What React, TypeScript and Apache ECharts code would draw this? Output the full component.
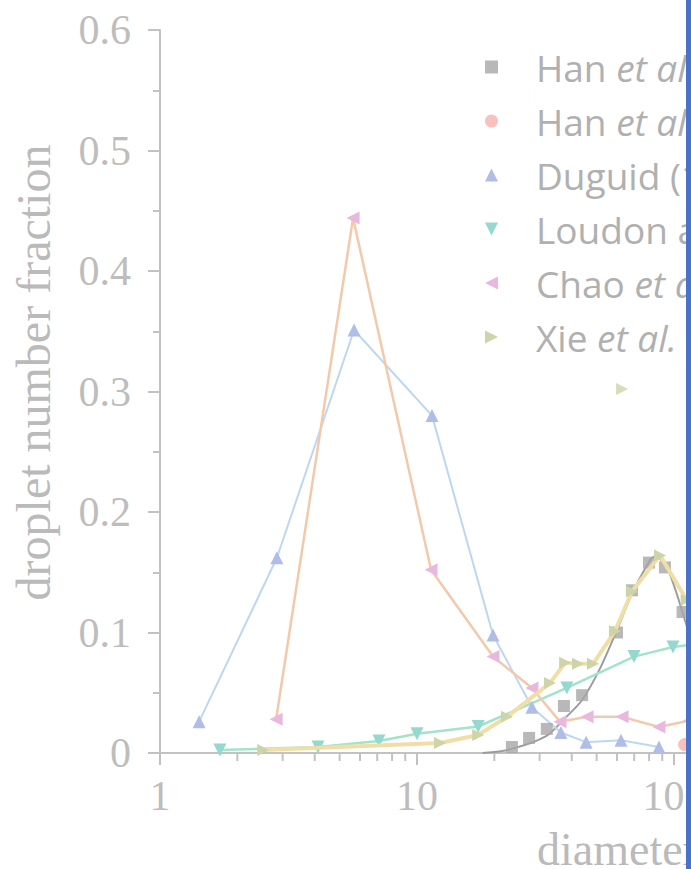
import React, { useEffect, useRef } from "react";
import * as echarts from "echarts";

// ---- data (diameter in µm, droplet number fraction) ----
const legendNames = [
  "Han et al. (2013) unimodal",
  "Han et al. (2013) bimodal",
  "Duguid (1946)",
  "Loudon and Roberts (1967)",
  "Chao et al. (2009)",
  "Xie et al. (2009)",
];

const hanSquares: [number, number][] = [
  [23.4, 0.005], [27.3, 0.0125], [32.0, 0.02], [37.3, 0.039], [43.9, 0.048],
  [60.0, 0.1], [68.6, 0.135], [79.9, 0.158], [92.2, 0.154], [108, 0.117], [128, 0.075],
];
const hanFit: [number, number][] = [
  [18, 0.0], [23, 0.003], [31.8, 0.014], [37.7, 0.029], [43.9, 0.044], [51.5, 0.07],
  [60, 0.102], [68.6, 0.132], [80.7, 0.16], [84.4, 0.163], [93.9, 0.154], [110.4, 0.11], [130, 0.06],
];
const hanCircles: [number, number][] = [[110, 0.007]];
const duguid: [number, number][] = [
  [1.42, 0.026], [2.85, 0.162], [5.69, 0.351], [11.44, 0.28], [19.76, 0.098],
  [28.0, 0.038], [36.3, 0.017], [45.5, 0.009], [62.2, 0.0105], [87.4, 0.005],
];
const loudon: [number, number][] = [
  [1.71, 0.0025], [4.12, 0.005], [7.11, 0.01], [10.0, 0.016], [17.3, 0.022],
  [38.3, 0.054], [69.9, 0.08], [99.1, 0.088], [140, 0.092],
];
const chao: [number, number][] = [
  [2.83, 0.028], [5.64, 0.444], [11.34, 0.152], [19.76, 0.08], [28.0, 0.054],
  [36.0, 0.026], [45.9, 0.03], [62.8, 0.03], [87.4, 0.0216], [115, 0.027],
];
const xie: [number, number][] = [
  [2.52, 0.0025], [12.29, 0.0083], [17.3, 0.015], [22.4, 0.03], [32.9, 0.058],
  [37.7, 0.075], [42.3, 0.074], [48.4, 0.074], [58.9, 0.101], [68.6, 0.134],
  [88.2, 0.164], [112, 0.127],
];
const xieExtra: [number, number][] = [[62.8, 0.302]];

const xMinorTicks = [2, 3, 4, 5, 6, 7, 8, 9, 20, 30, 40, 50, 60, 70, 80, 90, 200, 300, 400, 500, 600, 700, 800, 900];
const xTickLabels: Record<number, string> = { 1: "1", 10: "10", 100: "100" };

const DOWN = "path://M0,0L10,0L5,10Z";
const LEFT = "path://M10,0L10,10L0,5Z";
const RIGHT = "path://M0,0L10,5L0,10Z";

const AXIS = "#c2c2c2";
const LABEL = "#bdbdbd";
const SERIF = "Liberation Serif";
const LEG = "#b0b0b0";

export default function App() {
  const ref = useRef<HTMLDivElement>(null);

  useEffect(() => {
    const chart = echarts.init(ref.current!, null, { renderer: "svg" });
    const legendRich = {
      n: { fontFamily: "Open Sans", fontSize: 37, color: LEG, lineHeight: 40 },
      i: { fontFamily: "Open Sans", fontSize: 37, color: LEG, lineHeight: 40, fontStyle: "italic" },
    };
    const option: any = {
      animation: false,
      backgroundColor: "#ffffff",
      grid: { left: 160, top: 30, right: 69, bottom: 116, containLabel: false, outerBoundsMode: "none" },
      legend: {
        orient: "vertical",
        left: 480,
        top: 42,
        itemWidth: 13,
        itemHeight: 13,
        itemGap: 14,
        selectedMode: false,
        data: [
          { name: legendNames[0], icon: "rect" },
          { name: legendNames[1], icon: "circle" },
          { name: legendNames[2], icon: "triangle" },
          { name: legendNames[3], icon: DOWN },
          { name: legendNames[4], icon: LEFT },
          { name: legendNames[5], icon: RIGHT },
        ],
        formatter: (name: string) => {
          const m = name.match(/^(.*?)(et al\.)(.*)$/);
          if (m) return `{n|${m[1]}}{i|${m[2]}}{n|${m[3]}}`;
          return `{n|${name}}`;
        },
        textStyle: {
          fontFamily: "Open Sans",
          fontSize: 37,
          color: LEG,
          lineHeight: 40,
          padding: [0, 0, 0, 33],
          rich: legendRich,
        },
      },
      xAxis: {
        type: "log",
        logBase: 10,
        min: 1,
        max: 1000,
        axisLine: { show: true, lineStyle: { color: AXIS, width: 2 } },
        axisTick: { show: true, length: 12, lineStyle: { color: AXIS, width: 2 } },
        axisLabel: {
          margin: 22,
          fontFamily: SERIF,
          fontSize: 42,
          color: LABEL,
          formatter: (v: number) => xTickLabels[Math.round(v)] ?? "",
        },
        splitLine: { show: false },
        minorTick: { show: false },
      },
      yAxis: {
        type: "value",
        min: 0,
        max: 0.6,
        interval: 0.1,
        axisLine: { show: true, lineStyle: { color: AXIS, width: 2 } },
        axisTick: { show: true, length: 12, lineStyle: { color: AXIS, width: 2 } },
        minorTick: { show: true, splitNumber: 2, length: 7, lineStyle: { color: AXIS, width: 2 } },
        splitLine: { show: false },
        axisLabel: { margin: 29, fontFamily: SERIF, fontSize: 42, color: LABEL },
        name: "droplet number fraction",
        nameLocation: "middle",
        nameGap: 103,
        nameTextStyle: { fontFamily: SERIF, fontSize: 48, color: "#bababa", padding: [0, 0, 0, 38] },
      },
      graphic: [
        {
          type: "text",
          left: 537,
          top: 826,
          style: { text: "diameter (μm)", fontFamily: SERIF, fontSize: 46, fill: "#bababa" },
        },
      ],
      series: [
        {
          name: "_minor",
          type: "custom",
          silent: true,
          clip: false,
          data: xMinorTicks.map((v) => [v, 0]),
          renderItem: (params: any, api: any) => {
            const p = api.coord([api.value(0), api.value(1)]);
            return {
              type: "line",
              shape: { x1: p[0], y1: p[1], x2: p[0], y2: p[1] + 8 },
              style: { stroke: AXIS, lineWidth: 2 },
            };
          },
        },
        {
          name: "_hanfit",
          type: "line",
          data: hanFit,
          smooth: 0.3,
          symbol: "none",
          lineStyle: { color: "#9c9c9c", width: 2 },
          z: 2,
        },
        {
          name: legendNames[0],
          type: "scatter",
          data: hanSquares,
          symbol: "rect",
          symbolSize: 12,
          itemStyle: { color: "#a6a6a6" },
          z: 3,
        },
        {
          name: legendNames[1],
          type: "scatter",
          data: hanCircles,
          symbol: "circle",
          symbolSize: 13,
          itemStyle: { color: "#f6b2aa" },
          z: 3,
        },
        {
          name: legendNames[2],
          type: "line",
          data: duguid,
          symbol: "triangle",
          symbolSize: 13,
          itemStyle: { color: "#b0bde8" },
          lineStyle: { color: "#bed7f1", width: 2 },
          z: 3,
        },
        {
          name: legendNames[3],
          type: "line",
          data: loudon,
          symbol: DOWN,
          symbolSize: 13,
          itemStyle: { color: "#94d8cf" },
          lineStyle: { color: "#a2e4c8", width: 2.5 },
          z: 3,
        },
        {
          name: legendNames[4],
          type: "line",
          data: chao,
          symbol: LEFT,
          symbolSize: 13,
          itemStyle: { color: "#e9b8de" },
          lineStyle: { color: "#f3c9ab", width: 2.5 },
          z: 3,
        },
        {
          name: legendNames[5],
          type: "line",
          data: xie,
          symbol: RIGHT,
          symbolSize: 12,
          itemStyle: { color: "#ccd4a8" },
          lineStyle: { color: "#f1dea6", width: 4 },
          z: 4,
        },
        {
          name: "_xieExtra",
          type: "scatter",
          data: xieExtra,
          symbol: RIGHT,
          symbolSize: 12,
          itemStyle: { color: "#ccd4a8" },
          z: 4,
        },
      ],
    };
    chart.setOption(option);
    return () => chart.dispose();
  }, []);

  return (
    <div
      style={{
        position: "fixed",
        left: 0,
        top: 0,
        width: 691,
        height: 869,
        overflow: "hidden",
        background: "#ffffff",
      }}
    >
      <div ref={ref} style={{ position: "absolute", left: 0, top: 0, width: 1000, height: 869 }} />
      <div
        style={{
          position: "absolute",
          left: 686,
          top: 0,
          width: 5,
          height: 869,
          background: "#4a72c8",
        }}
      />
    </div>
  );
}
